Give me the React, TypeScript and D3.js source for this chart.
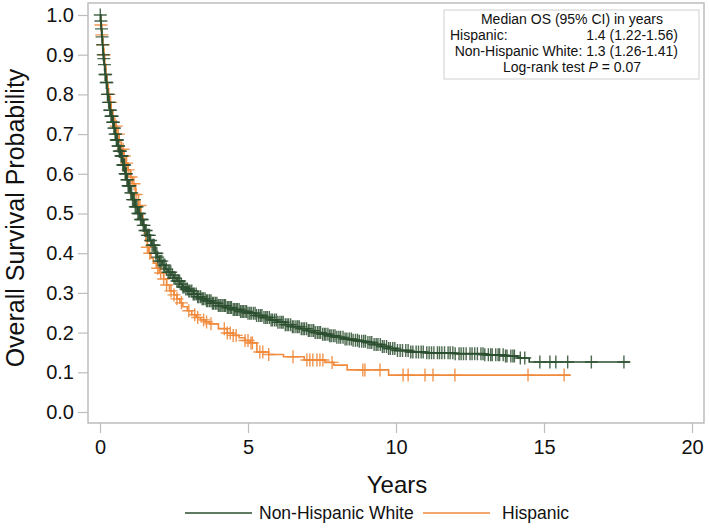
import React, { useRef, useEffect } from "react";
import * as d3 from "d3";

// Kaplan-Meier knots: [years, survival]
const nhwCurve: [number, number][] = [
  [0, 1.0], [0.02, 0.985], [0.04, 0.965], [0.06, 0.945], [0.08, 0.925], [0.1, 0.9],
  [0.12, 0.89], [0.14, 0.875], [0.17, 0.85], [0.2, 0.83], [0.24, 0.8], [0.28, 0.78],
  [0.33, 0.76], [0.37, 0.745], [0.42, 0.73], [0.46, 0.715], [0.5, 0.7], [0.55, 0.685],
  [0.6, 0.67], [0.65, 0.657], [0.7, 0.645], [0.77, 0.622], [0.84, 0.6], [0.9, 0.585],
  [0.95, 0.57], [1.02, 0.552], [1.1, 0.535], [1.19, 0.517], [1.28, 0.5], [1.36, 0.485],
  [1.45, 0.47], [1.52, 0.457], [1.6, 0.445], [1.68, 0.432], [1.75, 0.42], [1.86, 0.4],
  [1.93, 0.39], [2.0, 0.38], [2.1, 0.37], [2.2, 0.36], [2.3, 0.352], [2.4, 0.345],
  [2.5, 0.337], [2.6, 0.33], [2.7, 0.322], [2.8, 0.315], [2.9, 0.31], [3.0, 0.305],
  [3.15, 0.297], [3.3, 0.29], [3.45, 0.285], [3.6, 0.28], [3.8, 0.274], [4.0, 0.268],
  [4.25, 0.263], [4.5, 0.258], [4.75, 0.253], [5.0, 0.249], [5.25, 0.243], [5.5, 0.238],
  [5.75, 0.232], [6.0, 0.226], [6.25, 0.22], [6.5, 0.215], [6.75, 0.21], [7.0, 0.205],
  [7.25, 0.2], [7.5, 0.196], [7.75, 0.192], [8.0, 0.188], [8.25, 0.184], [8.5, 0.181],
  [8.75, 0.178], [9.0, 0.175], [9.25, 0.17], [9.5, 0.165], [9.75, 0.16], [10.0, 0.155],
  [10.5, 0.151], [11.0, 0.149], [12.0, 0.147], [13.0, 0.144], [13.7, 0.141], [14.1, 0.136],
  [14.5, 0.126],
];
const nhwEnd = 17.9;

const hispCurve: [number, number][] = [
  [0, 1.0], [0.03, 0.975], [0.06, 0.95], [0.09, 0.925], [0.12, 0.9], [0.16, 0.875],
  [0.2, 0.85], [0.24, 0.825], [0.28, 0.8], [0.33, 0.78], [0.38, 0.76], [0.44, 0.74],
  [0.5, 0.72], [0.57, 0.7], [0.65, 0.68], [0.72, 0.662], [0.8, 0.645], [0.88, 0.627],
  [0.95, 0.61], [1.02, 0.592], [1.1, 0.575], [1.2, 0.548], [1.3, 0.52], [1.38, 0.495],
  [1.45, 0.47], [1.5, 0.45], [1.55, 0.43], [1.6, 0.415], [1.65, 0.4], [1.72, 0.388],
  [1.8, 0.375], [1.9, 0.362], [2.0, 0.35], [2.15, 0.335], [2.25, 0.32], [2.35, 0.305],
  [2.5, 0.295], [2.6, 0.285], [2.7, 0.275], [2.8, 0.265], [2.95, 0.255], [3.1, 0.245],
  [3.25, 0.238], [3.4, 0.232], [3.55, 0.227], [3.7, 0.222], [4.0, 0.21], [4.3, 0.199],
  [4.5, 0.193], [4.7, 0.187], [4.9, 0.18], [5.07, 0.174], [5.3, 0.151], [5.7, 0.145],
  [6.2, 0.139], [6.9, 0.131], [7.6, 0.125], [7.9, 0.118], [8.35, 0.106], [9.75, 0.093],
];
const hispEnd = 15.9;

// censored times (years)
const nhwCensor = [
  0.01, 0.03, 0.05, 0.07, 0.09, 0.11, 0.13, 0.15, 0.17, 0.19, 0.21, 0.23, 0.25, 0.27, 0.29,
  0.31, 0.33, 0.35, 0.37, 0.39, 0.41, 0.43, 0.45, 0.47, 0.49, 0.51, 0.53, 0.55, 0.57, 0.59,
  0.61, 0.63, 0.65, 0.67, 0.69, 0.71, 0.73, 0.75, 0.77, 0.79, 0.81, 0.83, 0.85, 0.87, 0.89,
  0.91, 0.93, 0.95, 0.97, 0.99, 1.01, 1.04, 1.07, 1.1, 1.13, 1.16, 1.19, 1.22, 1.25, 1.28,
  1.31, 1.34, 1.37, 1.4, 1.43, 1.46, 1.49,
  1.52, 1.56, 1.6, 1.63, 1.67, 1.71, 1.76, 1.8, 1.83, 1.88, 1.92, 1.95, 2.0, 2.04, 2.09,
  2.15, 2.19, 2.24, 2.3, 2.34, 2.39, 2.45, 2.5, 2.54, 2.6, 2.65, 2.69, 2.75, 2.8, 2.84,
  2.9, 2.95, 3.0, 3.04, 3.1, 3.15, 3.19, 3.25, 3.3, 3.34, 3.4, 3.45, 3.49, 3.55, 3.6,
  3.64, 3.7, 3.75, 3.8, 3.84, 3.9, 3.95, 4.0, 4.05, 4.09, 4.15, 4.2, 4.24, 4.3, 4.35,
  4.4, 4.44, 4.5, 4.55, 4.6, 4.64, 4.7, 4.75, 4.8, 4.84, 4.9, 4.95, 5.0, 5.06, 5.11,
  5.18, 5.24, 5.29, 5.36, 5.42, 5.47, 5.54, 5.6, 5.65, 5.72, 5.78, 5.83, 5.9, 5.96, 6.01,
  6.08, 6.14, 6.19, 6.26, 6.32, 6.37, 6.44, 6.5, 6.55, 6.62, 6.68, 6.73, 6.8, 6.86, 6.91,
  6.98, 7.04, 7.09, 7.16, 7.22, 7.27, 7.34, 7.4, 7.45, 7.52, 7.58, 7.63, 7.7, 7.76, 7.81,
  7.88, 7.94, 8.0, 8.07, 8.13, 8.21, 8.28, 8.34, 8.42, 8.49, 8.55, 8.63, 8.7, 8.76, 8.84,
  8.91, 8.97, 9.05, 9.12, 9.18, 9.26, 9.33, 9.39, 9.47, 9.54, 9.6, 9.68, 9.75, 9.81, 9.89,
  9.96,
  10.05, 10.14, 10.22, 10.33, 10.41, 10.5, 10.57, 10.68, 10.76, 10.85, 10.92, 11.04, 11.12,
  11.2, 11.28, 11.4, 11.47, 11.55, 11.64, 11.76, 11.83, 11.92, 12.0, 12.13, 12.2, 12.28,
  12.37, 12.5, 12.57, 12.66, 12.75, 12.87, 12.94, 13.0, 13.12, 13.2, 13.25, 13.37, 13.45,
  13.5, 13.62, 13.7, 13.75, 13.88, 13.95, 14.0, 14.2, 14.35,
  14.86, 15.2, 15.4, 15.8, 16.6, 17.7,
];
const hispCensor = [
  0.03, 0.06, 0.1, 0.14, 0.3, 0.36, 0.55, 0.62, 0.78, 0.82, 0.9, 0.95, 1.05, 1.15, 1.22,
  1.35, 1.6, 1.68, 1.95, 2.05, 2.15, 2.25, 2.4, 2.5, 2.6, 2.75, 3.0, 3.2, 3.3, 3.5, 3.6,
  3.75, 4.2, 4.3, 4.4, 4.5, 4.6, 4.9, 5.0, 5.1, 5.15, 5.4, 5.5, 5.7,
  6.52, 6.99, 7.09, 7.19, 7.33, 7.43, 7.53, 7.84, 8.88, 8.95, 9.46, 10.24, 10.41, 10.98,
  11.25, 11.99, 14.46, 15.68,
];

const xTicks = [0, 5, 10, 15, 20];
const yTicks = [0, 0.1, 0.2, 0.3, 0.4, 0.5, 0.6, 0.7, 0.8, 0.9, 1.0];

const insetLines = [
  "Median OS (95% CI) in years",
  "Hispanic:",
  "1.4 (1.22-1.56)",
  "Non-Hispanic White: 1.3 (1.26-1.41)",
  "Log-rank test ",
];

const GREEN = "#2c4f2f";
const ORANGE = "#f08a3c";
const GRID = "#bdbdbd";
const FONT = "'Liberation Sans', Arial, sans-serif";

const App = () => {
  const ref = useRef<SVGSVGElement>(null);
  const width = 709;
  const height = 528;
  const frame = { left: 88, right: 704, top: 3, bottom: 423 };

  useEffect(() => {
    const svg = d3.select(ref.current);
    svg.selectAll("*").remove();

    const x = d3.scaleLinear().domain([0, 20]).range([100, 692]);
    const y = d3.scaleLinear().domain([0, 1]).range([412, 15]);

    // frame
    svg
      .append("rect")
      .attr("x", frame.left)
      .attr("y", frame.top)
      .attr("width", frame.right - frame.left)
      .attr("height", frame.bottom - frame.top)
      .attr("fill", "none")
      .attr("stroke", GRID)
      .attr("stroke-width", 1.5);

    // y axis
    const yAxis = d3
      .axisLeft(y)
      .tickValues(yTicks)
      .tickFormat(d3.format(".1f"))
      .tickSize(10)
      .tickPadding(4);
    const gy = svg
      .append("g")
      .attr("transform", `translate(${frame.left},0)`)
      .call(yAxis);
    gy.select(".domain").remove();
    gy.selectAll("line").attr("stroke", GRID).attr("stroke-width", 1.2);
    gy.selectAll("text")
      .attr("font-family", FONT)
      .attr("font-size", 20)
      .attr("fill", "#111");

    // x axis
    const xAxis = d3.axisBottom(x).tickValues(xTicks).tickSize(10).tickPadding(7);
    const gx = svg
      .append("g")
      .attr("transform", `translate(0,${frame.bottom})`)
      .call(xAxis);
    gx.select(".domain").remove();
    gx.selectAll("line").attr("stroke", GRID).attr("stroke-width", 1.2);
    gx.selectAll("text")
      .attr("font-family", FONT)
      .attr("font-size", 20)
      .attr("fill", "#111");

    // axis titles
    svg
      .append("text")
      .attr("transform", `translate(24,${(frame.top + frame.bottom) / 2 + 5}) rotate(-90)`)
      .attr("text-anchor", "middle")
      .attr("font-family", FONT)
      .attr("font-size", 25)
      .attr("fill", "#111")
      .text("Overall Survival Probability");
    svg
      .append("text")
      .attr("x", 397)
      .attr("y", 493)
      .attr("text-anchor", "middle")
      .attr("font-family", FONT)
      .attr("font-size", 24)
      .attr("fill", "#111")
      .text("Years");

    const survAt = (curve: [number, number][], t: number) => {
      let s = curve[0][1];
      curve.forEach((d) => {
        if (d[0] <= t) s = d[1];
      });
      return s;
    };

    const line = d3
      .line<[number, number]>()
      .x((d) => x(d[0]))
      .y((d) => y(d[1]))
      .curve(d3.curveStepAfter);

    const drawGroup = (
      curve: [number, number][],
      end: number,
      censor: number[],
      color: string,
      markOpacity: number
    ) => {
      const g = svg.append("g");
      const pts = [...curve, [end, curve[curve.length - 1][1]] as [number, number]];
      g.append("path")
        .attr("d", line(pts))
        .attr("fill", "none")
        .attr("stroke", color)
        .attr("stroke-width", 1.6);
      g.selectAll(".cens")
        .data(censor)
        .enter()
        .append("path")
        .attr("class", "cens")
        .attr("d", (t) => {
          const cx = x(t);
          const cy = y(survAt(curve, t));
          return `M${cx - 6.5},${cy}H${cx + 6.5}M${cx},${cy - 6.5}V${cy + 6.5}`;
        })
        .attr("stroke", color)
        .attr("stroke-width", 1.4)
        .attr("stroke-opacity", markOpacity)
        .attr("fill", "none");
    };

    drawGroup(hispCurve, hispEnd, hispCensor, ORANGE, 0.9);
    drawGroup(nhwCurve, nhwEnd, nhwCensor, GREEN, 0.85);

    // inset box
    svg
      .append("rect")
      .attr("x", 444)
      .attr("y", 10)
      .attr("width", 255)
      .attr("height", 69)
      .attr("fill", "white")
      .attr("stroke", "#cfcfcf")
      .attr("stroke-width", 1);
    const inset = svg
      .append("g")
      .attr("font-family", FONT)
      .attr("font-size", 14)
      .attr("fill", "#111");
    inset
      .append("text")
      .attr("x", 572)
      .attr("y", 24)
      .attr("text-anchor", "middle")
      .text(insetLines[0]);
    inset.append("text").attr("x", 450).attr("y", 40).text(insetLines[1]);
    inset
      .append("text")
      .attr("x", 678)
      .attr("y", 40)
      .attr("text-anchor", "end")
      .text(insetLines[2]);
    inset
      .append("text")
      .attr("x", 678)
      .attr("y", 56)
      .attr("text-anchor", "end")
      .text(insetLines[3]);
    const lr = inset
      .append("text")
      .attr("x", 572)
      .attr("y", 72)
      .attr("text-anchor", "middle");
    lr.append("tspan").text(insetLines[4]);
    lr.append("tspan").attr("font-style", "italic").text("P");
    lr.append("tspan").text(" = 0.07");

    // legend
    const legend = [
      { label: "Non-Hispanic White", color: GREEN, x0: 185, x1: 252, tx: 259 },
      { label: "Hispanic", color: ORANGE, x0: 423, x1: 490, tx: 502 },
    ];
    const lg = svg.append("g");
    legend.forEach((d) => {
      lg.append("line")
        .attr("x1", d.x0)
        .attr("x2", d.x1)
        .attr("y1", 513)
        .attr("y2", 513)
        .attr("stroke", d.color)
        .attr("stroke-width", 1.6);
      lg.append("text")
        .attr("x", d.tx)
        .attr("y", 519)
        .attr("font-family", FONT)
        .attr("font-size", 17.5)
        .attr("fill", "#111")
        .text(d.label);
    });
  }, []);

  return (
    <svg
      ref={ref}
      width={width}
      height={height}
      style={{ position: "absolute", left: 0, top: 0, background: "white" }}
    />
  );
};

export default App;
